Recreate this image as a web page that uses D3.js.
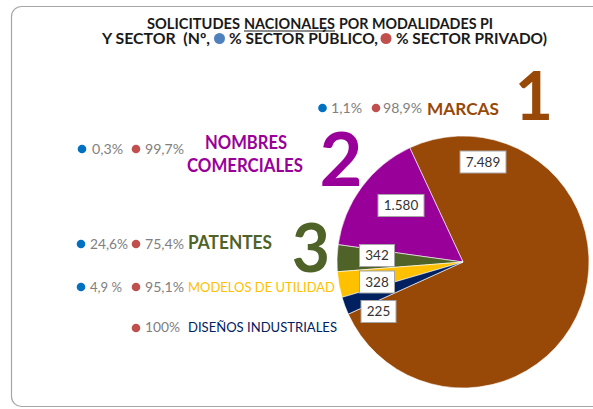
<!DOCTYPE html>
<html><head><meta charset="utf-8">
<script src="https://cdn.jsdelivr.net/npm/d3@7"></script>
<style>
html,body{margin:0;padding:0;background:#fff;}
svg{display:block;font-family:Lato,"Open Sans","DejaVu Sans",sans-serif;}
text{white-space:pre;}
</style></head><body>
<svg id="chart" width="593" height="409"></svg>
<script>
// ---------- DATA ----------
const categories = ["MARCAS", "NOMBRES COMERCIALES", "PATENTES", "MODELOS DE UTILIDAD", "DISEÑOS INDUSTRIALES"];
const values = [7489, 1580, 342, 328, 225];
const publicPct = ["1,1%", "0,3%", "24,6%", "4,9 %", ""];
const privatePct = ["98,9%", "99,7%", "75,4%", "95,1%", "100%"];
const ranks = ["1", "2", "3", "", ""];
const clockwiseOrder = [0, 4, 3, 2, 1];   // drawing order of the slices, clockwise
const titleLine1 = ["SOLICITUDES", "NACIONALES", "POR MODALIDADES PI"];
const titleLine2 = ["Y SECTOR  (Nº,", "% SECTOR PÚBLICO,", "% SECTOR PRIVADO)"];

// ---------- LAYOUT / STYLE ----------
const W = 593, H = 409;
const colors = ["#984807", "#990099", "#4F6228", "#FFC000", "#002060"];
const blueDot = "#0070C0", redDot = "#C0504D", grey = "#808080";
const titleBlue = "#4F81BD";
const cx = 463, cy = 262, R = 126, startDeg = -25;
const labelOffsets = [[20, -100], [-62, -56.5], [-86, -6.5], [-86, 20], [-84.5, 49.5]];
const title1Layout = [{x: 147, w: 93}, {x: 244, w: 91}, {x: 339, w: 154}];
const title2Layout = [{x: 102, w: 108}, {x: 229, w: 149}, {x: 396, w: 151}];
const title2Dots = [{x: 219.5, c: titleBlue}, {x: 386, c: redDot}];
const catLayout = [
  {lines: [{x: 427, y: 115, w: 72}], size: 17, weight: 700},
  {lines: [{x: 205, y: 149, w: 82}, {x: 187, y: 172, w: 116}], size: 18.5, weight: 700},
  {lines: [{x: 188, y: 249, w: 84}], size: 18, weight: 700},
  {lines: [{x: 188, y: 292, w: 147}], size: 13, weight: 400},
  {lines: [{x: 188, y: 332, w: 149}], size: 13, weight: 400}
];
const pctLayout = [
  {bx: 322.5, tx: 331, tw: 31, rx: 376, rtx: 383, rtw: 39, y: 113, dy: 108},
  {bx: 82, tx: 92, tw: 31, rx: 136, rtx: 145, rtw: 39, y: 154, dy: 149},
  {bx: 81, tx: 90, tw: 38, rx: 136, rtx: 145, rtw: 39, y: 249, dy: 244},
  {bx: 81, tx: 90, tw: 32, rx: 136, rtx: 145, rtw: 39, y: 292, dy: 287},
  {bx: 0, tx: 0, tw: 0, rx: 136, rtx: 145, rtw: 35, y: 332, dy: 328}
];
const rankLayout = [
  {x: 534, y: 120, size: 66},
  {x: 341, y: 186, size: 74},
  {x: 311, y: 272, size: 66}
];

const svg = d3.select("#chart");
svg.append("rect").attr("width", W).attr("height", H).attr("fill", "#fff");

// outer rounded frame
svg.append("rect").attr("x", 11.5).attr("y", 6.5).attr("width", 620).attr("height", 400)
  .attr("rx", 10).attr("fill", "none").attr("stroke", "#a6a6a6").attr("stroke-width", 1.2);

function fit(sel, w) { sel.attr("textLength", w).attr("lengthAdjust", "spacingAndGlyphs"); return sel; }

// ---------- TITLE ----------
titleLine1.forEach((s, i) => {
  const L = title1Layout[i];
  fit(svg.append("text").attr("x", L.x).attr("y", 29).attr("font-size", 15)
    .attr("font-weight", 700).attr("fill", "#1a1a1a").text(s), L.w);
  if (i === 1) {
    svg.append("line").attr("x1", L.x).attr("x2", L.x + L.w).attr("y1", 31).attr("y2", 31)
      .attr("stroke", "#1a1a1a").attr("stroke-width", 1.2);
  }
});
titleLine2.forEach((s, i) => {
  const L = title2Layout[i];
  fit(svg.append("text").attr("x", L.x).attr("y", 44).attr("font-size", 15)
    .attr("font-weight", 700).attr("fill", "#1a1a1a").text(s), L.w);
});
title2Dots.forEach(d => {
  svg.append("circle").attr("cx", d.x).attr("cy", 38.5).attr("r", 5.5).attr("fill", d.c);
});

// ---------- PIE ----------
const pie = d3.pie().value(d => d.v)
  .sort((a, b) => clockwiseOrder.indexOf(a.i) - clockwiseOrder.indexOf(b.i))
  .startAngle(startDeg * Math.PI / 180).endAngle(startDeg * Math.PI / 180 + 2 * Math.PI);
const arcs = pie(values.map((v, i) => ({v, i})));
const arc = d3.arc().innerRadius(0).outerRadius(R);
const g = svg.append("g").attr("transform", `translate(${cx},${cy})`);
g.selectAll("path").data(arcs).join("path")
  .attr("d", arc).attr("fill", d => colors[d.data.i])
  .attr("stroke", "#fff").attr("stroke-width", 0.6);

// value labels
const loc = d3.formatLocale({decimal: ",", thousands: ".", grouping: [3], currency: ["", "€"]});
const fmt = loc.format(",d");
const lg = g.selectAll("g.lbl").data(arcs).join("g").attr("class", "lbl")
  .attr("transform", d => `translate(${labelOffsets[d.data.i][0]},${labelOffsets[d.data.i][1]})`);
lg.each(function(d) {
  const s = d3.select(this);
  const r = s.append("rect").attr("fill", "#fff").attr("stroke", "#a6a6a6").attr("stroke-width", 1);
  const t = s.append("text").attr("text-anchor", "middle").attr("dy", "0.36em")
    .attr("font-size", 13.5).attr("fill", "#333").text(fmt(d.data.v));
  const bb = t.node().getBBox();
  const bw = Math.round(bb.width + 11), bh = 22;
  r.attr("x", -bw / 2).attr("y", -bh / 2).attr("width", bw).attr("height", bh);
});

// ---------- CATEGORY LABELS ----------
categories.forEach((c, i) => {
  const L = catLayout[i];
  const words = L.lines.length > 1 ? c.split(" ") : [c];
  L.lines.forEach((ln, j) => {
    fit(svg.append("text").attr("x", ln.x).attr("y", ln.y)
      .attr("font-size", L.size).attr("font-weight", L.weight).attr("fill", colors[i])
      .text(words[j]), ln.w);
  });
});

// ---------- RANK NUMBERS ----------
ranks.forEach((r, i) => {
  if (!r) return;
  const L = rankLayout[i];
  svg.append("text").attr("x", L.x).attr("y", L.y).attr("text-anchor", "middle")
    .attr("font-size", L.size).attr("font-weight", 700).attr("fill", colors[i]).text(r);
});

// ---------- SECTOR PERCENTAGES ----------
categories.forEach((c, i) => {
  const P = pctLayout[i];
  if (publicPct[i]) {
    svg.append("circle").attr("cx", P.bx).attr("cy", P.dy).attr("r", 4.3).attr("fill", blueDot);
    fit(svg.append("text").attr("x", P.tx).attr("y", P.y).attr("font-size", 13)
      .attr("fill", grey).text(publicPct[i]), P.tw);
  }
  svg.append("circle").attr("cx", P.rx).attr("cy", P.dy).attr("r", 4.3).attr("fill", redDot);
  fit(svg.append("text").attr("x", P.rtx).attr("y", P.y).attr("font-size", 13)
    .attr("fill", grey).text(privatePct[i]), P.rtw);
});
</script>
</body></html>
